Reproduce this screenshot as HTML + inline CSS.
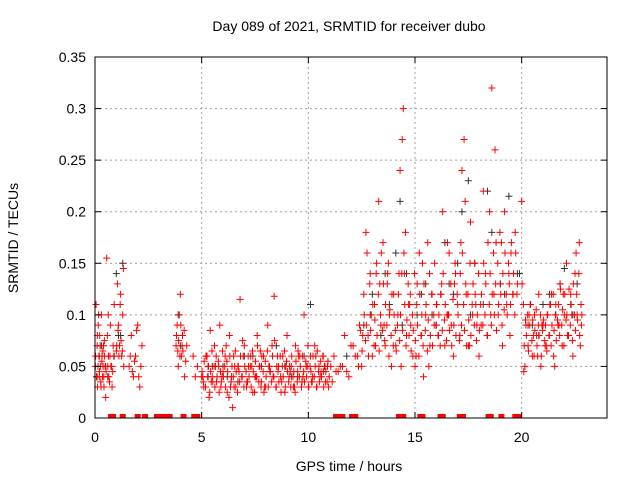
<!DOCTYPE html>
<html><head><meta charset="utf-8"><style>
body{margin:0;background:#fff;}
svg text{font-family:"Liberation Sans",sans-serif;font-size:14px;fill:#000;}
</style></head><body>
<svg id="chart" width="640" height="480" xmlns="http://www.w3.org/2000/svg">
<rect width="640" height="480" fill="#fff"/>
<text x="349" y="31" text-anchor="middle">Day 089 of 2021, SRMTID for receiver dubo</text>
<text x="349" y="471" text-anchor="middle">GPS time / hours</text>
<text transform="translate(18,238) rotate(-90)" text-anchor="middle">SRMTID / TECUs</text>
<g id="grid"></g>
<g id="black"></g>
<g id="red"></g>
<g id="axes"></g>
</svg>
<script>
const xTicks=[0,5,10,15,20];
const yTicks=[0,0.05,0.1,0.15,0.2,0.25,0.3,0.35];
const yLabels=["0","0.05","0.1","0.15","0.2","0.25","0.3","0.35"];
const redH=[0.02,0.05,0.08,0.1,0.12,0.15,0.18,0.2,0.22,0.25,0.28,0.3,0.33,0.35,0.38,0.4,0.42,0.45,0.5,0.55,0.6,0.62,0.65,0.7,0.72,0.75,0.8,0.85,0.9,1.0,1.05,1.1,1.15,1.2,1.25,1.3,1.35,1.6,1.7,1.8,1.9,2.0,2.1,2.2,3.8,3.85,3.9,3.95,4.0,4.05,4.1,4.2,4.3,4.6,4.7,4.8,
5.0,5.1,5.2,5.3,5.35,5.4,5.5,5.6,5.7,5.8,5.85,5.9,6.0,6.1,6.2,6.3,6.4,6.45,6.5,6.6,6.7,6.8,6.9,7.0,7.1,7.2,7.3,7.4,7.5,7.6,7.7,7.8,7.9,8.0,8.1,8.2,8.3,8.4,8.5,8.6,8.7,8.8,8.9,9.0,9.1,9.2,9.3,9.4,9.5,9.6,9.7,9.8,9.9,10.0,10.1,10.2,10.3,10.4,10.5,10.6,10.7,10.8,10.9,
5.05,5.25,5.45,5.65,5.95,6.15,6.35,6.55,6.75,6.95,7.15,7.35,7.55,7.75,7.95,8.15,8.35,8.55,8.75,8.95,9.15,9.35,9.55,9.75,9.95,10.15,10.35,10.55,10.75,10.95,
11.3,11.5,11.7,11.9,12.1,12.3,12.4,12.5,12.6,12.7,12.8,12.9,13.0,13.1,13.2,13.3,13.4,13.5,13.6,13.7,13.8,13.9,12.55,12.75,12.95,13.15,13.35,13.55,13.75,
14.0,14.1,14.2,14.3,14.35,14.4,14.45,14.5,14.6,14.7,14.8,14.9,15.0,15.1,15.2,15.3,15.4,15.5,15.6,15.7,15.8,15.9,14.25,14.55,14.75,15.05,15.35,15.65,
16.0,16.1,16.2,16.3,16.4,16.5,16.6,16.7,16.8,16.9,17.0,17.1,17.2,17.3,17.4,17.5,17.6,17.7,17.8,17.9,16.25,16.55,16.85,17.15,17.35,17.55,17.85,
18.0,18.1,18.2,18.3,18.4,18.5,18.6,18.7,18.8,18.9,19.0,19.1,19.2,19.3,19.4,19.5,19.6,19.7,19.8,18.55,18.75,19.05,19.45,
20.0,20.1,20.2,20.3,20.4,20.5,20.6,20.7,20.8,20.9,21.0,21.1,21.2,21.3,21.4,21.5,21.6,21.7,21.8,21.9,22.0,22.1,22.2,22.3,22.4,22.5,22.6,22.7,22.8,
20.15,20.35,20.55,20.75,20.95,21.15,21.35,21.55,21.75,21.95,22.15,22.35,22.55,22.75];
const redV=[0.05,0.11,0.04,0.07,0.03,0.09,0.06,0.04,0.08,0.05,0.03,0.1,0.06,0.04,0.05,0.07,0.03,0.06,0.02,0.155,0.05,0.1,0.04,0.06,0.09,0.05,0.03,0.07,0.11,0.065,0.13,0.09,0.07,0.12,0.06,0.1,0.05,0.05,0.08,0.04,0.06,0.09,0.03,0.07,0.07,0.09,0.05,0.1,0.12,0.06,0.08,0.04,0.07,0.06,0.04,0.05,
0.04,0.03,0.06,0.05,0.02,0.085,0.04,0.07,0.035,0.05,0.09,0.03,0.045,0.06,0.025,0.08,0.04,0.01,0.06,0.03,0.05,0.115,0.04,0.07,0.03,0.05,0.06,0.025,0.04,0.08,0.05,0.035,0.06,0.03,0.09,0.045,0.07,0.118,0.03,0.05,0.04,0.06,0.025,0.08,0.04,0.05,0.03,0.07,0.045,0.06,0.035,0.1,0.05,0.03,0.06,0.04,0.07,0.03,0.05,0.045,0.06,0.035,0.05,0.04,
0.06,0.035,0.05,0.04,0.07,0.03,0.05,0.045,0.06,0.035,0.05,0.04,0.065,0.03,0.05,0.04,0.06,0.035,0.05,0.045,0.03,0.06,0.04,0.05,0.035,0.06,0.04,0.05,0.03,0.045,
0.05,0.08,0.04,0.07,0.06,0.09,0.05,0.12,0.18,0.08,0.14,0.06,0.11,0.15,0.21,0.09,0.17,0.07,0.13,0.1,0.05,0.08,0.16,0.1,0.07,0.13,0.09,0.15,0.12,
0.07,0.1,0.24,0.05,0.27,0.3,0.14,0.08,0.11,0.09,0.06,0.05,0.13,0.16,0.08,0.04,0.1,0.17,0.07,0.12,0.09,0.14,0.18,0.11,0.06,0.15,0.05,0.11,
0.08,0.12,0.2,0.07,0.1,0.16,0.09,0.06,0.14,0.11,0.08,0.24,0.27,0.12,0.07,0.19,0.1,0.15,0.09,0.13,0.1,0.13,0.17,0.21,0.07,0.11,0.06,
0.09,0.22,0.14,0.08,0.2,0.32,0.12,0.17,0.1,0.13,0.07,0.2,0.11,0.14,0.16,0.12,0.18,0.13,0.1,0.26,0.17,0.08,0.21,
0.045,0.09,0.07,0.11,0.06,0.1,0.08,0.12,0.05,0.09,0.07,0.1,0.08,0.12,0.06,0.11,0.09,0.13,0.07,0.1,0.15,0.08,0.12,0.06,0.14,0.1,0.17,0.09,0.05,
0.1,0.08,0.06,0.09,0.07,0.11,0.05,0.09,0.12,0.08,0.1,0.16,0.07,0.11];
const redH2=[0.03,0.07,0.11,0.14,0.17,0.21,0.24,0.27,0.32,0.37,0.41,0.44,0.48,0.52,0.58,0.63,0.68,0.78,0.83,0.88,1.02,1.08,1.12,1.18,1.22,1.28,1.33,1.65,1.75,1.85,1.95,2.05,2.15,3.82,3.88,3.92,3.98,4.02,4.08,4.12,4.18,4.25,
5.02,5.08,5.12,5.18,5.22,5.28,5.32,5.38,5.42,5.48,5.52,5.58,5.62,5.68,5.72,5.78,5.82,5.88,5.92,5.98,6.02,6.08,6.12,6.18,6.22,6.28,6.32,6.38,6.42,6.48,6.52,6.58,6.62,6.68,6.72,6.78,6.82,6.88,6.92,6.98,
7.02,7.08,7.12,7.18,7.22,7.28,7.32,7.38,7.42,7.48,7.52,7.58,7.62,7.68,7.72,7.78,7.82,7.88,7.92,7.98,8.02,8.08,8.12,8.18,8.22,8.28,8.32,8.38,8.42,8.48,8.52,8.58,8.62,8.68,8.72,8.78,8.82,8.88,8.92,8.98,
9.02,9.08,9.12,9.18,9.22,9.28,9.32,9.38,9.42,9.48,9.52,9.58,9.62,9.68,9.72,9.78,9.82,9.88,9.92,9.98,10.02,10.08,10.12,10.18,10.22,10.28,10.32,10.38,10.42,10.48,10.52,10.58,10.62,10.68,10.72,10.78,10.82,10.88,10.92,10.98,11.05,11.12,11.2,
11.4,11.6,11.8,12.0,12.2,12.35,12.45,12.52,12.62,12.68,12.72,12.82,12.88,12.92,13.02,13.08,13.12,13.18,13.22,13.28,13.32,13.38,13.42,13.48,13.52,13.58,13.62,13.68,13.72,13.78,13.82,13.88,13.92,13.98,
14.02,14.08,14.12,14.18,14.22,14.28,14.32,14.38,14.42,14.48,14.52,14.58,14.62,14.68,14.72,14.78,14.82,14.88,14.92,14.98,15.02,15.08,15.12,15.18,15.22,15.28,15.32,15.38,15.42,15.48,15.52,15.58,15.62,15.68,15.72,15.78,15.82,15.88,15.92,15.98,
16.02,16.08,16.12,16.18,16.22,16.28,16.32,16.38,16.42,16.48,16.52,16.58,16.62,16.68,16.72,16.78,16.82,16.88,16.92,16.98,17.02,17.08,17.12,17.18,17.22,17.28,17.32,17.38,17.42,17.48,17.52,17.58,17.62,17.68,17.72,17.78,17.82,17.88,17.92,17.98,
18.02,18.08,18.12,18.18,18.22,18.28,18.32,18.38,18.42,18.48,18.52,18.58,18.62,18.68,18.72,18.78,18.82,18.88,18.92,18.98,19.02,19.08,19.12,19.18,19.22,19.28,19.32,19.38,19.42,19.48,19.52,19.58,19.62,19.68,19.72,19.78,
20.02,20.08,20.12,20.18,20.22,20.28,20.32,20.38,20.42,20.48,20.52,20.58,20.62,20.68,20.72,20.78,20.82,20.88,20.92,20.98,21.02,21.08,21.12,21.18,21.22,21.28,21.32,21.38,21.42,21.48,21.52,21.58,21.62,21.68,21.72,21.78,21.82,21.88,21.92,21.98,
22.02,22.08,22.12,22.18,22.22,22.28,22.32,22.38,22.42,22.48,22.52,22.58,22.62,22.68,22.72,22.78,22.82];
const redV2=[0.06,0.04,0.08,0.05,0.1,0.045,0.07,0.035,0.055,0.065,0.04,0.075,0.05,0.045,0.08,0.06,0.035,0.05,0.045,0.06,0.07,0.085,0.06,0.11,0.075,0.065,0.145,0.06,0.045,0.055,0.085,0.04,0.05,0.08,0.065,0.075,0.06,0.09,0.07,0.065,0.085,0.055,
0.045,0.035,0.055,0.03,0.06,0.04,0.05,0.025,0.045,0.065,0.035,0.05,0.03,0.06,0.04,0.055,0.025,0.045,0.035,0.065,0.04,0.05,0.03,0.055,0.045,0.02,0.06,0.035,0.05,0.04,0.03,0.065,0.045,0.025,0.05,0.035,0.06,0.04,0.075,0.03,0.05,0.045,
0.035,0.06,0.04,0.05,0.03,0.065,0.045,0.025,0.055,0.04,0.07,0.035,0.05,0.03,0.06,0.045,0.025,0.055,0.04,0.065,0.03,0.05,0.045,0.035,0.06,0.04,0.075,0.03,0.05,0.045,0.035,0.06,0.025,0.05,0.04,0.065,0.03,0.055,0.045,0.035,
0.05,0.03,0.06,0.04,0.045,0.025,0.055,0.035,0.065,0.04,0.05,0.03,0.06,0.045,0.035,0.055,0.04,0.07,0.03,0.05,0.045,0.035,0.06,0.04,0.05,0.03,0.065,0.045,0.035,0.055,0.04,0.06,0.03,0.05,0.045,0.035,0.055,0.04,0.05,0.035,0.06,0.045,0.05,
0.045,0.07,0.06,0.05,0.085,0.065,0.1,0.075,0.09,0.06,0.13,0.085,0.11,0.07,0.095,0.14,0.08,0.12,0.065,0.1,0.16,0.085,0.13,0.075,0.11,0.09,0.14,0.06,0.105,0.08,0.12,0.07,0.1,0.085,
0.065,0.09,0.12,0.075,0.1,0.14,0.085,0.16,0.11,0.07,0.095,0.13,0.08,0.12,0.065,0.1,0.085,0.14,0.075,0.11,0.09,0.06,0.12,0.08,0.1,0.07,0.13,0.085,0.11,0.065,0.095,0.14,0.08,0.12,0.07,0.1,0.15,0.09,0.11,0.08,
0.1,0.07,0.12,0.085,0.14,0.095,0.11,0.075,0.17,0.1,0.085,0.13,0.07,0.115,0.09,0.15,0.08,0.12,0.1,0.075,0.14,0.09,0.16,0.11,0.085,0.13,0.07,0.12,0.095,0.15,0.08,0.11,0.13,0.09,0.12,0.075,0.1,0.14,0.085,0.11,
0.12,0.09,0.15,0.1,0.13,0.08,0.17,0.11,0.14,0.09,0.12,0.16,0.1,0.13,0.085,0.15,0.11,0.18,0.12,0.09,0.14,0.105,0.16,0.12,0.1,0.15,0.13,0.11,0.17,0.12,0.14,0.1,0.16,0.12,0.13,0.11,
0.07,0.095,0.08,0.1,0.065,0.09,0.11,0.075,0.095,0.06,0.085,0.105,0.07,0.09,0.08,0.1,0.06,0.085,0.095,0.075,0.09,0.065,0.1,0.08,0.11,0.07,0.09,0.12,0.085,0.1,0.075,0.095,0.11,0.08,0.125,0.09,0.105,0.07,0.12,0.095,
0.1,0.08,0.125,0.09,0.11,0.075,0.13,0.1,0.085,0.12,0.095,0.14,0.08,0.11,0.1,0.09,0.085];
const blackH=[0.1,0.3,0.5,0.9,1.0,1.2,1.3,3.9,4.1,5.5,6.2,7.0,7.8,8.5,9.2,9.8,10.5,11.8,12.6,13.0,13.4,13.8,14.1,14.3,14.6,15.1,15.5,16.0,16.4,16.8,17.2,17.5,17.8,18.2,18.6,19.0,19.4,19.8,20.3,20.8,21.3,21.6,22.0,22.3,22.6,
0.2,0.6,1.1,4.0,5.3,6.0,6.7,7.4,8.2,8.9,9.5,10.1,10.7,12.9,13.6,14.4,15.3,15.8,16.6,17.0,17.6,18.4,19.2,19.9,20.5,21.0,21.8,22.4];
const blackV=[0.04,0.07,0.05,0.06,0.14,0.08,0.15,0.1,0.08,0.05,0.04,0.06,0.05,0.07,0.04,0.06,0.05,0.06,0.09,0.12,0.08,0.11,0.16,0.21,0.14,0.1,0.13,0.09,0.17,0.12,0.2,0.23,0.15,0.11,0.18,0.13,0.215,0.14,0.09,0.08,0.12,0.1,0.145,0.11,0.13,
0.06,0.04,0.08,0.07,0.04,0.05,0.035,0.06,0.045,0.05,0.04,0.11,0.045,0.1,0.14,0.09,0.12,0.1,0.13,0.15,0.1,0.22,0.12,0.14,0.09,0.11,0.13,0.1];
const zeroH=[0.75,0.85,1.3,2.0,2.35,2.9,3.05,3.2,3.35,3.5,4.15,4.65,4.8,11.3,11.45,11.6,12.05,12.2,14.25,14.35,14.45,15.25,15.35,16.2,16.3,17.1,17.25,18.45,18.55,19.05,19.7,19.85];
const L=95,R=607,T=57,B=418;
const xs=h=>L+h*(R-L)/24, ys=v=>B-v*(B-T)/0.35;
const NS="http://www.w3.org/2000/svg";
function mk(tag,attrs,parent){const e=document.createElementNS(NS,tag);for(const k in attrs)e.setAttribute(k,attrs[k]);parent.appendChild(e);return e;}
const grid=document.getElementById('grid'),axes=document.getElementById('axes');
xTicks.forEach(t=>{const x=xs(t);
 if(t>0){const g=mk('line',{x1:x,x2:x,y1:T,y2:B,stroke:'#a0a0a0','stroke-dasharray':'2,3'},grid);}
 mk('line',{x1:x,x2:x,y1:B,y2:B-6,stroke:'#000'},axes);mk('line',{x1:x,x2:x,y1:T,y2:T+6,stroke:'#000'},axes);
 const tx=mk('text',{x:x,y:B+24,'text-anchor':'middle'},axes);tx.textContent=t;
 });
yTicks.forEach((t,i)=>{const y=ys(t);
 if(i>0&&i<yTicks.length-1){const g=mk('line',{x1:L,x2:R,y1:y,y2:y,stroke:'#a0a0a0','stroke-dasharray':'2,3'},grid);}
 mk('line',{x1:L,x2:L+6,y1:y,y2:y,stroke:'#000'},axes);mk('line',{x1:R,x2:R-6,y1:y,y2:y,stroke:'#000'},axes);
 const tx=mk('text',{x:L-9,y:y+5,'text-anchor':'end'},axes);tx.textContent=yLabels[i];
 });
const fr=mk('rect',{x:L,y:T,width:R-L,height:B-T,fill:'none',stroke:'#000','stroke-width':1},axes);

function plus(g,h,v,col,name){const x=xs(h),y=ys(v);
 const p=mk('path',{d:`M${x-3.5},${y}H${x+3.5}M${x},${y-3.5}V${y+3.5}`,stroke:col,'stroke-width':1,fill:'none'},g);
 }
const bg=document.getElementById('black'),rg=document.getElementById('red');
blackH.forEach((h,i)=>plus(bg,h,blackV[i],'#333','black-point'));
redH.forEach((h,i)=>plus(rg,h,redV[i],'#f00','red-point'));
redH2.forEach((h,i)=>plus(rg,h,redV2[i],'#f00','red-point'));
zeroH.forEach(h=>{const x=xs(h);const r=mk('rect',{x:x-3,y:B-4,width:6,height:4,fill:'#f00'},rg);
 });
</script>
</body></html>
